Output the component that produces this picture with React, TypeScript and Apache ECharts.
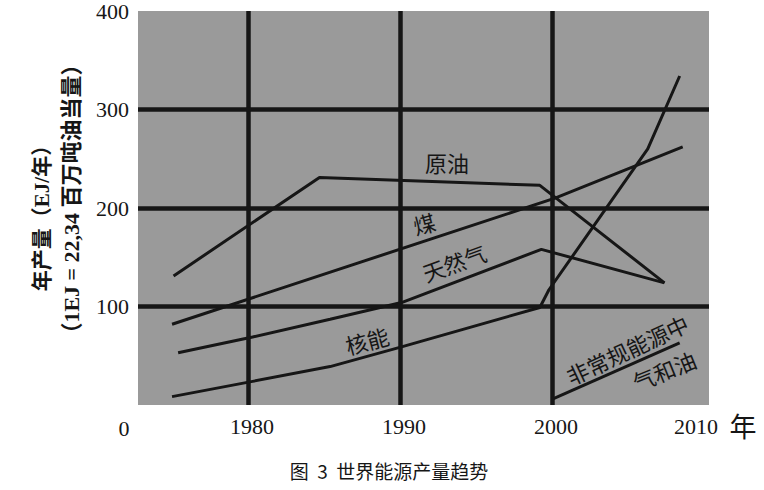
import React, { useEffect, useRef } from "react";
import * as echarts from "echarts";

// ---- data ----
const X_TICKS = [1980, 1990, 2000, 2010];
const Y_TICKS = [100, 200, 300, 400];
const GRID_X = [1980, 1990, 2000];
const GRID_Y = [100, 200, 300];

const oilYears = [1975.1, 1984.7, 1999.2, 2007.4];
const oilVals = [131, 231, 223, 124];

const coalYears = [1975.0, 2000.2, 2008.6];
const coalVals = [82, 210, 262];

const gasYears = [1975.4, 1980.3, 1985.4, 1990.1, 1999.3, 2007.4];
const gasVals = [53, 69, 87, 104, 158, 124];

const nuclearYears = [1975.0, 1980.3, 1985.4, 1990.1, 1999.2, 1999.8, 2006.3, 2008.4];
const nuclearVals = [8.5, 24, 39, 59, 99, 117, 260, 334];

const unconvYears = [2000.1, 2008.4];
const unconvVals = [6.5, 63];

const LABEL_OIL = "原油";
const LABEL_COAL = "煤";
const LABEL_GAS = "天然气";
const LABEL_NUCLEAR = "核能";
const LABEL_UNCONV_1 = "非常规能源中";
const LABEL_UNCONV_2 = "气和油";
const Y_TITLE_1 = "年产量（EJ/年）";
const Y_TITLE_2 = "（1EJ = 22,34 百万吨油当量）";
const CAPTION = "图  3  世界能源产量趋势";
const X_UNIT = "年";
const ORIGIN_LABEL = "0";

const pairs = (xs: number[], ys: number[]) => xs.map((x, i) => [x, ys[i]]);

const INK = "#161616";
const FONT = "'Liberation Serif', 'Noto Sans CJK SC', serif";
const CJK = "'Noto Sans CJK SC', sans-serif";

export default function App() {
  const ref = useRef<HTMLDivElement>(null);
  useEffect(() => {
    if (!ref.current) return;
    document.body.style.margin = "0";
    const chart = echarts.init(ref.current, null, { renderer: "svg" });
    const lineStyle = { color: INK, width: 3 };
    const mkSeries = (name: string, data: number[][], extra: any = {}) => ({
      name,
      type: "line",
      data,
      symbol: "none",
      smooth: false,
      lineStyle,
      silent: true,
      ...extra,
    });
    const rad = (d: number) => (d * Math.PI) / 180;
    const label = (text: string, x: number, y: number, deg: number, size = 22) => ({
      type: "text",
      x,
      y,
      rotation: rad(deg),
      style: {
        text,
        fill: INK,
        font: `${size}px ${CJK}`,
        textAlign: "center",
        textVerticalAlign: "middle",
      },
    });
    const lastX = X_TICKS[X_TICKS.length - 1];
    chart.setOption({
      animation: false,
      grid: {
        left: 138,
        right: 55,
        top: 7,
        bottom: 85,
        show: true,
        backgroundColor: "#9a9a9a",
        borderWidth: 0,
        containLabel: false,
      },
      xAxis: {
        type: "value",
        min: 1972.76,
        max: 2010.33,
        axisLine: { show: false },
        axisTick: { show: false },
        splitLine: { show: false },
        axisLabel: {
          customValues: X_TICKS,
          formatter: (v: number) => (v === lastX ? `{r|${v}}` : `{n|${v}}`),
          fontSize: 22,
          fontFamily: FONT,
          color: INK,
          margin: 10,
          rich: {
            n: { fontSize: 22, fontFamily: FONT, color: INK, padding: [0, 0, 0, 8] },
            r: { fontSize: 22, fontFamily: FONT, color: INK, padding: [0, 16, 0, 0] },
          },
        },
      },
      yAxis: {
        type: "value",
        min: 0,
        max: 400,
        interval: 100,
        axisLine: { show: false },
        axisTick: { show: false },
        splitLine: { show: false },
        axisLabel: {
          customValues: Y_TICKS,
          formatter: (v: number) => String(v),
          fontSize: 22,
          fontFamily: FONT,
          color: INK,
          margin: 9,
          padding: [10, 0, 0, 0],
        },
      },
      series: [
        mkSeries(LABEL_OIL, pairs(oilYears, oilVals), {
          markLine: {
            silent: true,
            symbol: "none",
            label: { show: false },
            lineStyle: { color: INK, width: 4.5, type: "solid" },
            emphasis: { disabled: true },
            data: [
              ...GRID_X.map((v) => ({ xAxis: v })),
              ...GRID_Y.map((v) => ({ yAxis: v })),
            ],
          },
        }),
        mkSeries(LABEL_COAL, pairs(coalYears, coalVals)),
        mkSeries(LABEL_GAS, pairs(gasYears, gasVals)),
        mkSeries(LABEL_NUCLEAR, pairs(nuclearYears, nuclearVals)),
        mkSeries(LABEL_UNCONV_1 + LABEL_UNCONV_2, pairs(unconvYears, unconvVals)),
      ],
      graphic: [
        label(LABEL_OIL, 447, 162, 0),
        label(LABEL_COAL, 424, 223, 15),
        label(LABEL_GAS, 454, 262, 20),
        label(LABEL_NUCLEAR, 367, 340, 15),
        label(LABEL_UNCONV_1, 627, 349, 25),
        label(LABEL_UNCONV_2, 664, 370, 22),
        {
          type: "text",
          x: 42,
          y: 213,
          rotation: Math.PI / 2,
          style: {
            text: Y_TITLE_1,
            fill: INK,
            font: `bold 21px ${FONT}`,
            textAlign: "center",
            textVerticalAlign: "middle",
          },
        },
        {
          type: "text",
          x: 71,
          y: 199,
          rotation: Math.PI / 2,
          style: {
            text: Y_TITLE_2,
            fill: INK,
            font: `bold 22px ${FONT}`,
            textAlign: "center",
            textVerticalAlign: "middle",
          },
        },
        {
          type: "text",
          x: 124,
          y: 428,
          style: {
            text: ORIGIN_LABEL,
            fill: INK,
            font: `22px ${FONT}`,
            textAlign: "center",
            textVerticalAlign: "middle",
          },
        },
        {
          type: "text",
          x: 743,
          y: 425,
          style: {
            text: X_UNIT,
            fill: INK,
            font: `27px ${CJK}`,
            textAlign: "center",
            textVerticalAlign: "middle",
          },
        },
        {
          type: "text",
          x: 389,
          y: 470,
          style: {
            text: CAPTION,
            fill: INK,
            font: `19px ${CJK}`,
            textAlign: "center",
            textVerticalAlign: "middle",
          },
        },
      ],
    });
    return () => chart.dispose();
  }, []);
  return <div ref={ref} style={{ width: 764, height: 490 }} />;
}
